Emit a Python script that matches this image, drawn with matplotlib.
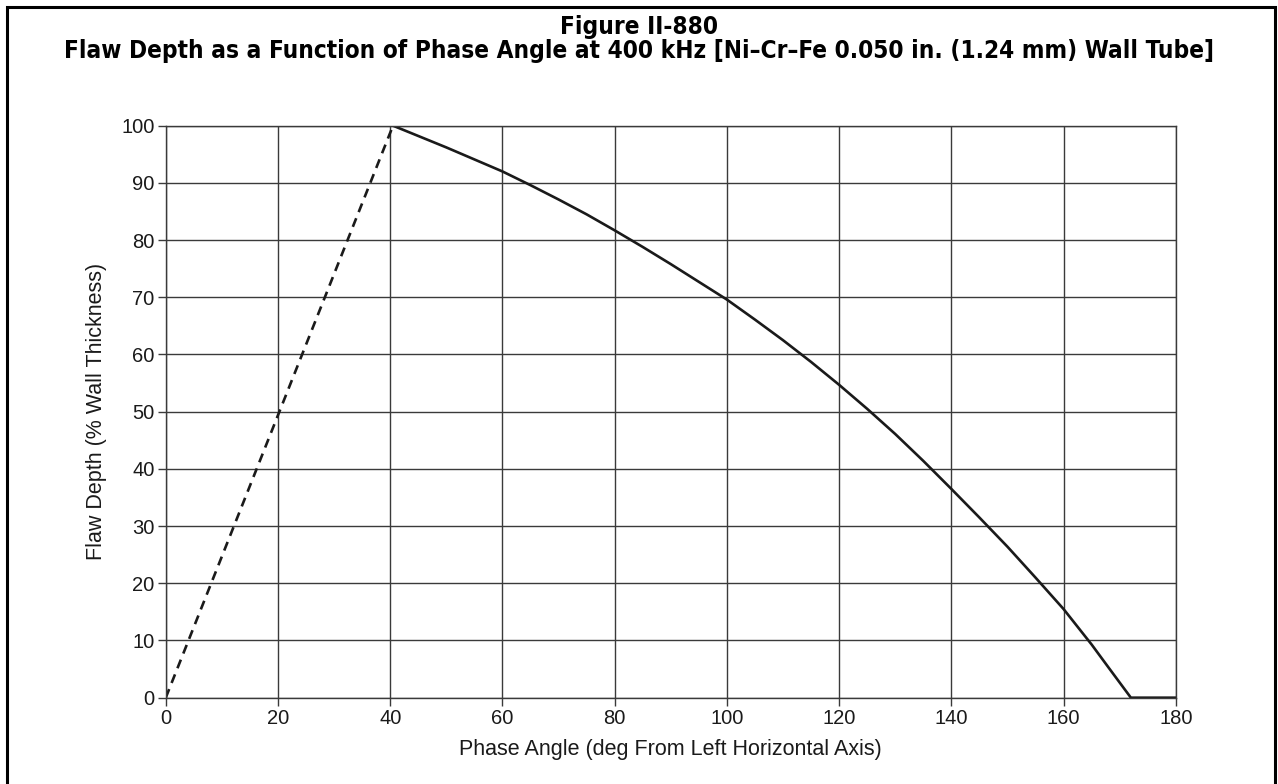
import matplotlib
matplotlib.use('Agg')
import matplotlib.pyplot as plt
from matplotlib.patches import Rectangle

# values
solid_angle = [40.5, 45, 50, 55, 60, 65, 70, 75, 80, 85, 90, 95, 100, 105, 110, 115,
               120, 125, 130, 135, 140, 145, 150, 155, 160, 165, 168, 172, 180]
solid_depth = [100, 98.2, 96.2, 94.1, 92.0, 89.6, 87.1, 84.5, 81.7, 78.8, 75.8, 72.7, 69.6,
               66.1, 62.5, 58.7, 54.7, 50.5, 46.1, 41.4, 36.5, 31.5, 26.4, 21.0, 15.5, 9.3,
               5.3, 0, 0]
dash_angle = [0, 40.5]
dash_depth = [0, 100]

x_ticks = list(range(0, 181, 20))
y_ticks = list(range(0, 101, 10))

plt.rcParams['font.family'] = ['Liberation Sans', 'DejaVu Sans']

fig = plt.figure(figsize=(12.78, 7.84), dpi=100)
ax = fig.add_axes([0.1297, 0.1101, 0.7903, 0.7296])

ax.plot(dash_angle, dash_depth, color='#1a1a1a', lw=1.9, dashes=(3.5, 2.5))
ax.plot(solid_angle, solid_depth, color='#1a1a1a', lw=1.9, solid_joinstyle='round')

ax.set_xlim(0, 180)
ax.set_ylim(0, 100)
ax.set_xticks(x_ticks)
ax.set_yticks(y_ticks)
ax.grid(True, color='#3a3a3a', lw=1.0)
ax.set_axisbelow(True)
ax.tick_params(direction='out', length=6, width=1.0, color='#3a3a3a',
               labelsize=14.5, labelcolor='#1a1a1a', pad=2)
for s in ax.spines.values():
    s.set_color('#3a3a3a')
    s.set_linewidth(1.0)

ax.set_xlabel('Phase Angle (deg From Left Horizontal Axis)', fontsize=15.5, color='#1a1a1a', labelpad=8)
ax.set_ylabel('Flaw Depth (% Wall Thickness)', fontsize=15.5, color='#1a1a1a', labelpad=10)

fig.text(0.5, 0.966, 'Figure II-880', ha='center', va='center', fontsize=17.5,
         fontweight='bold', fontstretch='condensed', family=['DejaVu Sans'])
fig.text(0.5, 0.935,
         'Flaw Depth as a Function of Phase Angle at 400 kHz [Ni\u2013Cr\u2013Fe 0.050 in. (1.24 mm) Wall Tube]',
         ha='center', va='center', fontsize=17.5, fontweight='bold', fontstretch='condensed',
         family=['DejaVu Sans'])

# outer frame
fig.patches.append(Rectangle((7 / 1278, -0.05), 1268 / 1278, 1 - 7 / 784 + 0.05,
                             transform=fig.transFigure, fill=False, lw=2.2,
                             edgecolor='black', clip_on=False))

fig.savefig('out.png', dpi=100)
